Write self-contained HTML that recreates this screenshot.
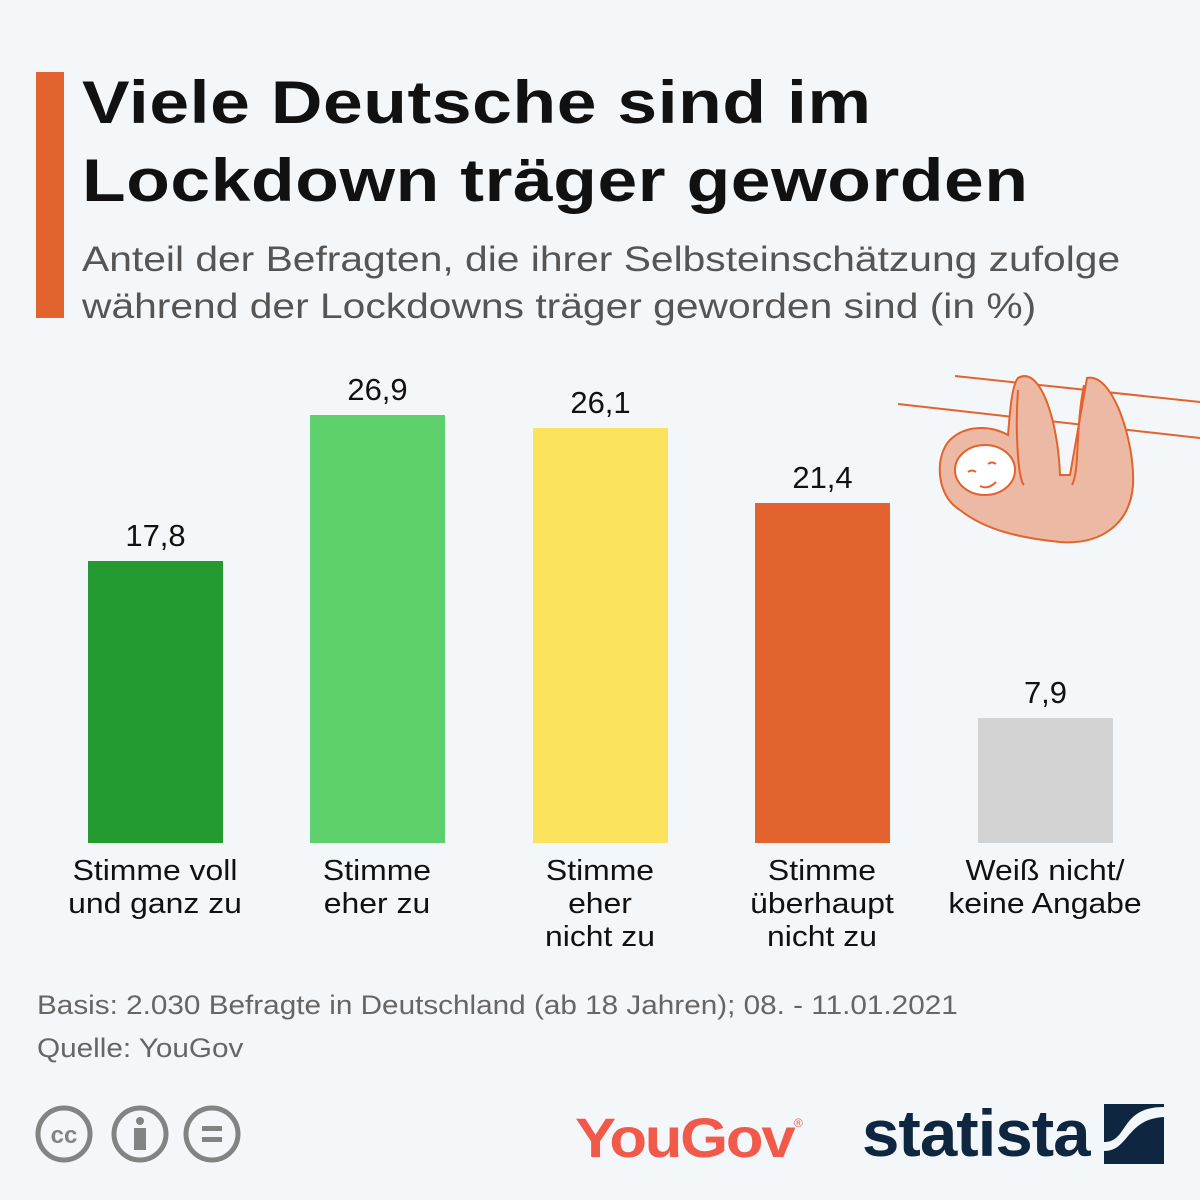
<!DOCTYPE html><html><head><meta charset="utf-8"><style>
body{margin:0;width:1200px;height:1200px;background:#f4f7fa;font-family:"Liberation Sans","DejaVu Sans",sans-serif;position:relative;overflow:hidden}
.a{position:absolute}
.t{left:82px;top:64px;font-size:60px;font-weight:bold;color:#111;line-height:78px;letter-spacing:0.5px;transform:scaleX(1.19);transform-origin:left;white-space:nowrap}
.s{left:82px;top:236px;font-size:35px;color:#555;line-height:47px;transform:scaleX(1.165);transform-origin:left;white-space:nowrap}
.bar{position:absolute;width:135px;bottom:357px}
.v{position:absolute;width:135px;text-align:center;font-size:31px;color:#111}
.c{position:absolute;width:220px;text-align:center;font-size:29px;color:#111;line-height:33px;top:855px;transform:scaleX(1.1)}
.f{left:37px;font-size:27px;color:#666;transform:scaleX(1.1);transform-origin:left;white-space:nowrap}
</style></head><body>
<div class="a" style="left:36px;top:72px;width:28px;height:246px;background:#e2632d"></div>
<div class="a t">Viele Deutsche sind im<br>Lockdown träger geworden</div>
<div class="a s">Anteil der Befragten, die ihrer Selbsteinschätzung zufolge<br>während der Lockdowns träger geworden sind (in %)</div>

<div class="bar" style="left:88px;top:561px;background:#249b30"></div>
<div class="bar" style="left:310px;top:415px;background:#5ed16c"></div>
<div class="bar" style="left:533px;top:428px;background:#fbe35b"></div>
<div class="bar" style="left:755px;top:503px;background:#e2632d"></div>
<div class="bar" style="left:978px;top:718px;background:#d3d3d3"></div>

<div class="v" style="left:88px;top:518px">17,8</div>
<div class="v" style="left:310px;top:372px">26,9</div>
<div class="v" style="left:533px;top:385px">26,1</div>
<div class="v" style="left:755px;top:460px">21,4</div>
<div class="v" style="left:978px;top:675px">7,9</div>

<div class="c" style="left:45px">Stimme voll<br>und ganz zu</div>
<div class="c" style="left:267px">Stimme<br>eher zu</div>
<div class="c" style="left:490px">Stimme<br>eher<br>nicht zu</div>
<div class="c" style="left:712px">Stimme<br>überhaupt<br>nicht zu</div>
<div class="c" style="left:935px">Weiß nicht/<br>keine Angabe</div>

<svg class="a" style="left:890px;top:360px" width="310" height="190" viewBox="0 0 310 190">
<g stroke="#e2632d" stroke-width="2" fill="none">
<line x1="65" y1="16" x2="310" y2="42"/><line x1="8" y1="44" x2="310" y2="78"/>
</g>
<path d="M128 18 C150 5 168 60 170 115 L180 115 L197 18 C222 12 245 80 243 125 C240 165 210 185 170 182 C130 178 95 170 70 150 C45 135 45 95 60 80 C75 65 100 65 118 75 C120 50 122 25 128 18 Z" fill="#ecbaa4" stroke="#e2632d" stroke-width="2"/>
<path d="M128 30 C125 70 128 120 134 125 M194 25 C185 70 190 110 182 125" stroke="#e2632d" stroke-width="2" fill="none"/>
<ellipse cx="95" cy="110" rx="30" ry="25" fill="#fff" stroke="#e2632d" stroke-width="2"/>
<path d="M78 112 q4 -3 8 0 M98 104 q4 -3 8 0 M90 126 q8 4 16 -4" stroke="#e2632d" stroke-width="2" fill="none"/>
</svg>

<div class="a f" style="top:990px">Basis: 2.030 Befragte in Deutschland (ab 18 Jahren); 08. - 11.01.2021</div>
<div class="a f" style="top:1033px">Quelle: YouGov</div>

<svg class="a" style="left:34px;top:1104px" width="210" height="60">
<g fill="none" stroke="#808483" stroke-width="5">
<circle cx="30" cy="30" r="26"/><circle cx="106" cy="30" r="26"/><circle cx="178" cy="30" r="26"/></g>
<text x="30" y="39" font-size="24" font-weight="bold" fill="#808483" text-anchor="middle" font-family="Liberation Sans">cc</text>
<circle cx="106" cy="17" r="4" fill="#808483"/><rect x="100" y="24" width="12" height="22" fill="#808483"/>
<rect x="168" y="22" width="20" height="5" fill="#808483"/><rect x="168" y="33" width="20" height="5" fill="#808483"/>
</svg>
<div class="a" style="left:575px;top:1105px;font-size:56px;font-weight:bold;color:#f15a4a;letter-spacing:-2px;transform:scaleX(1.1);transform-origin:left">YouGov</div>
<div class="a" style="left:794px;top:1116px;font-size:12px;color:#f15a4a">®</div>
<div class="a" style="left:862px;top:1095px;font-size:66px;font-weight:bold;color:#0f2640;letter-spacing:-1px;transform:scaleX(1.02);transform-origin:left">statista</div>
<svg class="a" style="left:1104px;top:1104px" width="60" height="60"><rect width="60" height="60" fill="#0f2640"/><path d="M0 47 C25 47 22 15 60 13 L60 3 C15 3 25 38 0 38Z" fill="#f4f7fa"/></svg>
</body></html>
